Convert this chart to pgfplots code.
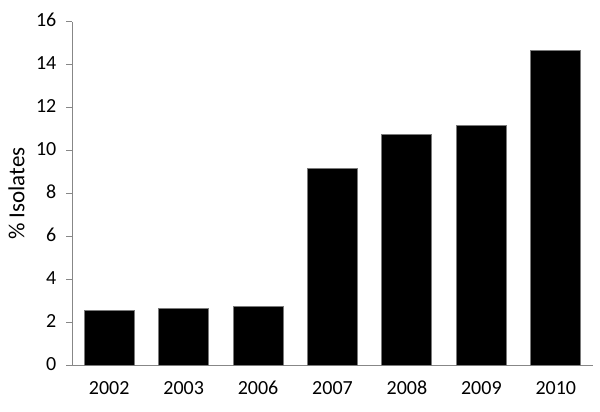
\documentclass[border=0pt]{standalone}
\usepackage{pgfplots}
\pgfplotsset{compat=1.18}
\usepackage{fontspec}
\setmainfont{Carlito}
\definecolor{axgray}{HTML}{878787}
\definecolor{edgegray}{HTML}{7A7A7A}
\begin{document}
\begin{tikzpicture}
\useasboundingbox (-72bp,-46.3bp) rectangle (528bp,365.7bp);
\begin{axis}[
  at={(0,0)}, anchor=south west,
  scale only axis,
  width=521bp, height=344bp,
  xmin=-0.5, xmax=6.5,
  ymin=0, ymax=16,
  ytick={0,2,...,16},
  xtick=data,
  xticklabels={2002,2003,2006,2007,2008,2009,2010},
  axis x line=bottom, axis y line=left,
  axis line style={axgray, line width=1bp, -},
  x axis line style={-}, y axis line style={-},
  tick align=outside,
  ytick style={axgray, line width=1bp},
  major tick length=5.5bp,
  xtick style={draw=none},
  /pgf/number format/assume math mode=true,
  typeset ticklabels with strut,
  tick label style={font=\fontsize{20bp}{22bp}\selectfont, black},
  yticklabel style={inner sep=0pt, xshift=-10bp},
  xticklabel style={inner sep=0pt, yshift=-8bp},
  ylabel={\% Isolates},
  ylabel style={font=\fontsize{23bp}{26bp}\selectfont, at={(axis description cs:-0.1065,0.5)}, anchor=center, inner sep=0pt},
  clip=false,
]
\addplot[ybar, bar width=0.672, fill=black, draw=edgegray, line width=1bp] coordinates {
  (0,2.58) (1,2.67) (2,2.76) (3,9.15) (4,10.76) (5,11.15) (6,14.67)
};
\end{axis}
\end{tikzpicture}
\end{document}
